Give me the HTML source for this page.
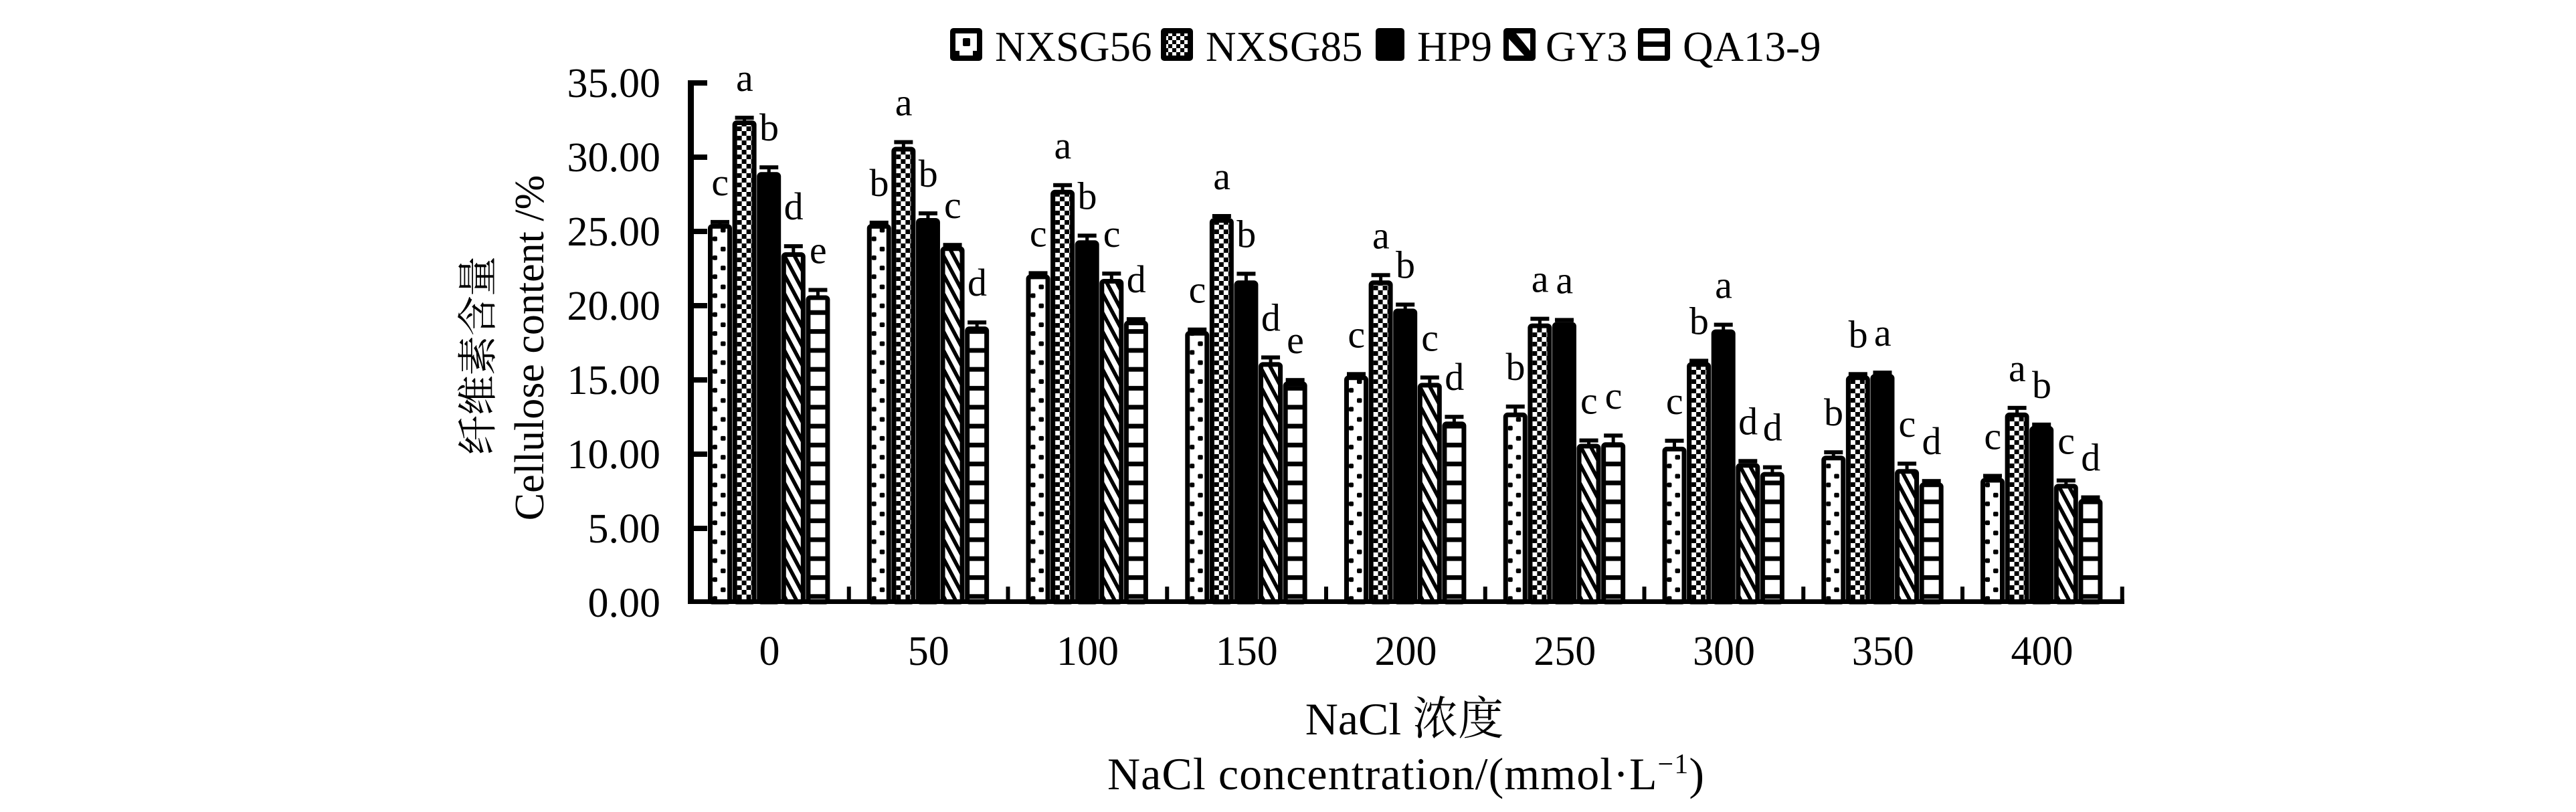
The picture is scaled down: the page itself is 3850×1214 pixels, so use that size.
<!DOCTYPE html>
<html><head><meta charset="utf-8">
<style>
html,body{margin:0;padding:0;background:#fff;}
svg{display:block;}
text{font-family:"Liberation Serif","Noto Serif CJK SC",serif;fill:#000;}
.tk{font-size:62px;}
.lt{font-size:58px;text-anchor:middle;}
.lg{font-size:63px;}
.cj{font-size:60px;font-family:"Noto Serif CJK SC","Noto Sans CJK SC","WenQuanYi Zen Hei",serif;text-anchor:middle;}
.p1{fill:url(#p1);}
.p2{fill:url(#p2);}
.p3{fill:#000;}
.p4{fill:url(#p4);}
.p5{fill:url(#p5);}
.bar{stroke:#000;stroke-width:7;}
</style></head>
<body>
<svg width="3850" height="1214" viewBox="0 0 3850 1214" xmlns="http://www.w3.org/2000/svg">
<defs>
<pattern id="p1" patternUnits="userSpaceOnUse" width="40" height="28.3"><rect width="40" height="28.3" fill="#fff"/><rect x="7" y="14" width="7" height="7" rx="2"/><rect x="19" y="1" width="7.5" height="7" rx="2"/></pattern>
<pattern id="p2" patternUnits="userSpaceOnUse" width="14" height="14"><rect width="14" height="14" fill="#fff"/><rect x="0" y="0" width="7" height="7"/><rect x="7" y="7" width="7" height="7"/></pattern>
<pattern id="p4" patternUnits="userSpaceOnUse" width="40" height="28.3" patternTransform="skewY(62)"><rect width="40" height="28.3" fill="#fff"/><rect width="40" height="12"/></pattern>
<pattern id="p5" patternUnits="userSpaceOnUse" width="40" height="28.3"><rect width="40" height="28.3" fill="#fff"/><rect y="11" width="40" height="7"/></pattern>
<pattern id="lp2" patternUnits="userSpaceOnUse" width="12" height="12"><rect width="12" height="12" fill="#fff"/><rect width="6" height="6"/><rect x="6" y="6" width="6" height="6"/></pattern>
</defs>
<rect width="3850" height="1214" fill="#fff"/>

<!-- Legend -->
<rect x="1420" y="42" width="48" height="49" rx="5"/>
<rect x="1428" y="50" width="32" height="33" fill="#fff"/>
<rect x="1439" y="57" width="11" height="12" rx="2"/>
<rect x="1428" y="76" width="6" height="7"/><rect x="1454" y="76" width="6" height="7"/>
<text class="lg" x="1487" y="91">NXSG56</text>
<rect x="1735" y="42" width="48" height="49" rx="5"/>
<rect x="1743" y="50" width="32" height="33" fill="url(#lp2)"/>
<text class="lg" x="1802" y="91">NXSG85</text>
<rect x="2056" y="42" width="43" height="49" rx="5"/>
<text class="lg" x="2118" y="91">HP9</text>
<rect x="2247" y="42" width="48" height="49" rx="5"/>
<rect x="2255" y="50" width="32" height="33" fill="#fff"/>
<polygon points="2255,50 2266,50 2287,76 2287,83 2278,83 2255,58"/>
<text class="lg" x="2310" y="91">GY3</text>
<rect x="2448" y="42" width="48" height="49" rx="5"/>
<rect x="2456" y="50" width="32" height="12" fill="#fff"/>
<rect x="2456" y="70" width="32" height="13" fill="#fff"/>
<text class="lg" x="2515" y="91">QA13-9</text>

<!-- Y axis title -->
<text class="cj" transform="translate(735,650.5) rotate(-90)">纤</text>
<text class="cj" transform="translate(735,591) rotate(-90)">维</text>
<text class="cj" transform="translate(735,531.7) rotate(-90)">素</text>
<text class="cj" transform="translate(735,472.3) rotate(-90)">含</text>
<text class="cj" transform="translate(735,413) rotate(-90)">量</text>
<text transform="translate(812,520) rotate(-90)" text-anchor="middle" style="font-size:62px;">Cellulose content /%</text>

<!-- Y tick labels -->
<text class="tk" x="987" y="145" text-anchor="end">35.00</text>
<text class="tk" x="987" y="256" text-anchor="end">30.00</text>
<text class="tk" x="987" y="367" text-anchor="end">25.00</text>
<text class="tk" x="987" y="478" text-anchor="end">20.00</text>
<text class="tk" x="987" y="589" text-anchor="end">15.00</text>
<text class="tk" x="987" y="700" text-anchor="end">10.00</text>
<text class="tk" x="987" y="811" text-anchor="end">5.00</text>
<text class="tk" x="987" y="922" text-anchor="end">0.00</text>

<!-- X tick labels -->
<text class="tk" x="1150" y="994" text-anchor="middle">0</text>
<text class="tk" x="1387.75" y="994" text-anchor="middle">50</text>
<text class="tk" x="1625.5" y="994" text-anchor="middle">100</text>
<text class="tk" x="1863.25" y="994" text-anchor="middle">150</text>
<text class="tk" x="2101" y="994" text-anchor="middle">200</text>
<text class="tk" x="2338.75" y="994" text-anchor="middle">250</text>
<text class="tk" x="2576.5" y="994" text-anchor="middle">300</text>
<text class="tk" x="2814.25" y="994" text-anchor="middle">350</text>
<text class="tk" x="3052" y="994" text-anchor="middle">400</text>

<!-- X title -->
<text x="2099" y="1098" text-anchor="middle" style="font-size:68px;">NaCl 浓度</text>
<text x="2101" y="1180" text-anchor="middle" style="font-size:68px;" textLength="892" lengthAdjust="spacing">NaCl concentration/(mmol·L<tspan dy="-24" style="font-size:42px;">−1</tspan><tspan dy="24">)</tspan></text>

<!-- Bars -->
<!-- G0 -->
<g transform="translate(1058,0)"><rect class="bar p1" x="3.5" y="338.4" width="29" height="561.6" rx="3"/><rect x="15.5" y="331.9" width="5" height="4"/><rect x="4" y="328.9" width="28" height="6"/><text class="lt" x="18.3" y="291.9">c</text></g>
<g transform="translate(1094.6,0)"><rect class="bar p2" x="3.5" y="183.5" width="29" height="716.5" rx="3"/><rect x="15.5" y="176" width="5" height="5"/><rect x="4" y="173" width="28" height="6"/><text class="lt" x="18.3" y="136">a</text></g>
<g transform="translate(1131.2,0)"><rect class="bar p3" x="3.5" y="260.7" width="29" height="639.3" rx="3"/><rect x="15.5" y="250.2" width="5" height="8"/><rect x="4" y="247.2" width="28" height="6"/><text class="lt" x="18.3" y="210.2">b</text></g>
<g transform="translate(1167.8,0)"><rect class="bar p4" x="3.5" y="380.6" width="29" height="519.4" rx="3"/><rect x="15.5" y="368.1" width="5" height="10"/><rect x="4" y="365.1" width="28" height="6"/><text class="lt" x="18.3" y="328.1">d</text></g>
<g transform="translate(1204.4,0)"><rect class="bar p5" x="3.5" y="445" width="29" height="455" rx="3"/><rect x="15.5" y="433.5" width="5" height="9"/><rect x="4" y="430.5" width="28" height="6"/><text class="lt" x="18.3" y="393.5">e</text></g>
<!-- G50 -->
<g transform="translate(1295.75,0)"><rect class="bar p1" x="3.5" y="338.4" width="29" height="561.6" rx="3"/><rect x="4" y="329.9" width="28" height="6"/><text class="lt" x="18.3" y="292.9">b</text></g>
<g transform="translate(1332.35,0)"><rect class="bar p2" x="3.5" y="223" width="29" height="677" rx="3"/><rect x="15.5" y="212.5" width="5" height="8"/><rect x="4" y="209.5" width="28" height="6"/><text class="lt" x="18.3" y="172.5">a</text></g>
<g transform="translate(1368.95,0)"><rect class="bar p3" x="3.5" y="329.5" width="29" height="570.5" rx="3"/><rect x="15.5" y="319" width="5" height="8"/><rect x="4" y="316" width="28" height="6"/><text class="lt" x="18.3" y="279">b</text></g>
<g transform="translate(1405.55,0)"><rect class="bar p4" x="3.5" y="371.7" width="29" height="528.3" rx="3"/><rect x="4" y="363.2" width="28" height="6"/><text class="lt" x="18.3" y="326.2">c</text></g>
<g transform="translate(1442.15,0)"><rect class="bar p5" x="3.5" y="491.6" width="29" height="408.4" rx="3"/><rect x="15.5" y="482.1" width="5" height="7"/><rect x="4" y="479.1" width="28" height="6"/><text class="lt" x="18.3" y="442.1">d</text></g>
<!-- G100 -->
<g transform="translate(1533.5,0)"><rect class="bar p1" x="3.5" y="413.9" width="29" height="486.1" rx="3"/><rect x="4" y="405.4" width="28" height="6"/><text class="lt" x="18.3" y="368.4">c</text></g>
<g transform="translate(1570.1,0)"><rect class="bar p2" x="3.5" y="287.3" width="29" height="612.7" rx="3"/><rect x="15.5" y="276.8" width="5" height="8"/><rect x="4" y="273.8" width="28" height="6"/><text class="lt" x="18.3" y="236.8">a</text></g>
<g transform="translate(1606.7,0)"><rect class="bar p3" x="3.5" y="362.8" width="29" height="537.2" rx="3"/><rect x="15.5" y="352.3" width="5" height="8"/><rect x="4" y="349.3" width="28" height="6"/><text class="lt" x="18.3" y="312.3">b</text></g>
<g transform="translate(1643.3,0)"><rect class="bar p4" x="3.5" y="420.5" width="29" height="479.5" rx="3"/><rect x="15.5" y="409" width="5" height="9"/><rect x="4" y="406" width="28" height="6"/><text class="lt" x="18.3" y="369">c</text></g>
<g transform="translate(1679.9,0)"><rect class="bar p5" x="3.5" y="482.7" width="29" height="417.3" rx="3"/><rect x="4" y="474.2" width="28" height="6"/><text class="lt" x="18.3" y="437.2">d</text></g>
<!-- G150 -->
<g transform="translate(1771.25,0)"><rect class="bar p1" x="3.5" y="498.2" width="29" height="401.8" rx="3"/><rect x="4" y="489.7" width="28" height="6"/><text class="lt" x="18.3" y="452.7">c</text></g>
<g transform="translate(1807.85,0)"><rect class="bar p2" x="3.5" y="329.5" width="29" height="570.5" rx="3"/><rect x="4" y="320" width="28" height="6"/><text class="lt" x="18.3" y="283">a</text></g>
<g transform="translate(1844.45,0)"><rect class="bar p3" x="3.5" y="422.8" width="29" height="477.2" rx="3"/><rect x="15.5" y="409.3" width="5" height="11"/><rect x="4" y="406.3" width="28" height="6"/><text class="lt" x="18.3" y="369.3">b</text></g>
<g transform="translate(1881.05,0)"><rect class="bar p4" x="3.5" y="544.9" width="29" height="355.1" rx="3"/><rect x="15.5" y="534.4" width="5" height="8"/><rect x="4" y="531.4" width="28" height="6"/><text class="lt" x="18.3" y="494.4">d</text></g>
<g transform="translate(1917.65,0)"><rect class="bar p5" x="3.5" y="573.7" width="29" height="326.3" rx="3"/><rect x="4" y="565.2" width="28" height="6"/><text class="lt" x="18.3" y="528.2">e</text></g>
<!-- G200 -->
<g transform="translate(2009,0)"><rect class="bar p1" x="3.5" y="564.8" width="29" height="335.2" rx="3"/><rect x="4" y="556.3" width="28" height="6"/><text class="lt" x="18.3" y="519.3">c</text></g>
<g transform="translate(2045.6,0)"><rect class="bar p2" x="3.5" y="422.8" width="29" height="477.2" rx="3"/><rect x="15.5" y="411.3" width="5" height="9"/><rect x="4" y="408.3" width="28" height="6"/><text class="lt" x="18.3" y="371.3">a</text></g>
<g transform="translate(2082.2,0)"><rect class="bar p3" x="3.5" y="464.9" width="29" height="435.1" rx="3"/><rect x="15.5" y="455.4" width="5" height="7"/><rect x="4" y="452.4" width="28" height="6"/><text class="lt" x="18.3" y="415.4">b</text></g>
<g transform="translate(2118.8,0)"><rect class="bar p4" x="3.5" y="575.9" width="29" height="324.1" rx="3"/><rect x="15.5" y="564.4" width="5" height="9"/><rect x="4" y="561.4" width="28" height="6"/><text class="lt" x="18.3" y="524.4">c</text></g>
<g transform="translate(2155.4,0)"><rect class="bar p5" x="3.5" y="633.7" width="29" height="266.3" rx="3"/><rect x="15.5" y="623.2" width="5" height="8"/><rect x="4" y="620.2" width="28" height="6"/><text class="lt" x="18.3" y="583.2">d</text></g>
<!-- G250 -->
<g transform="translate(2246.75,0)"><rect class="bar p1" x="3.5" y="620.3" width="29" height="279.7" rx="3"/><rect x="15.5" y="607.8" width="5" height="10"/><rect x="4" y="604.8" width="28" height="6"/><text class="lt" x="18.3" y="567.8">b</text></g>
<g transform="translate(2283.35,0)"><rect class="bar p2" x="3.5" y="487.1" width="29" height="412.9" rx="3"/><rect x="15.5" y="476.6" width="5" height="8"/><rect x="4" y="473.6" width="28" height="6"/><text class="lt" x="18.3" y="436.6">a</text></g>
<g transform="translate(2319.95,0)"><rect class="bar p3" x="3.5" y="484.9" width="29" height="415.1" rx="3"/><rect x="4" y="475.4" width="28" height="6"/><text class="lt" x="18.3" y="438.4">a</text></g>
<g transform="translate(2356.55,0)"><rect class="bar p4" x="3.5" y="667" width="29" height="233" rx="3"/><rect x="15.5" y="658.5" width="5" height="6"/><rect x="4" y="655.5" width="28" height="6"/><text class="lt" x="18.3" y="618.5">c</text></g>
<g transform="translate(2393.15,0)"><rect class="bar p5" x="3.5" y="664.7" width="29" height="235.3" rx="3"/><rect x="15.5" y="651.2" width="5" height="11"/><rect x="4" y="648.2" width="28" height="6"/><text class="lt" x="18.3" y="611.2">c</text></g>
<!-- G300 -->
<g transform="translate(2484.5,0)"><rect class="bar p1" x="3.5" y="671.4" width="29" height="228.6" rx="3"/><rect x="15.5" y="658.9" width="5" height="10"/><rect x="4" y="655.9" width="28" height="6"/><text class="lt" x="18.3" y="618.9">c</text></g>
<g transform="translate(2521.1,0)"><rect class="bar p2" x="3.5" y="544.9" width="29" height="355.1" rx="3"/><rect x="4" y="536.4" width="28" height="6"/><text class="lt" x="18.3" y="499.4">b</text></g>
<g transform="translate(2557.7,0)"><rect class="bar p3" x="3.5" y="496" width="29" height="404" rx="3"/><rect x="15.5" y="485.5" width="5" height="8"/><rect x="4" y="482.5" width="28" height="6"/><text class="lt" x="18.3" y="445.5">a</text></g>
<g transform="translate(2594.3,0)"><rect class="bar p4" x="3.5" y="695.8" width="29" height="204.2" rx="3"/><rect x="4" y="686.3" width="28" height="6"/><text class="lt" x="18.3" y="649.3">d</text></g>
<g transform="translate(2630.9,0)"><rect class="bar p5" x="3.5" y="709.1" width="29" height="190.9" rx="3"/><rect x="15.5" y="698.6" width="5" height="8"/><rect x="4" y="695.6" width="28" height="6"/><text class="lt" x="18.3" y="658.6">d</text></g>
<!-- G350 -->
<g transform="translate(2722.25,0)"><rect class="bar p1" x="3.5" y="684.7" width="29" height="215.3" rx="3"/><rect x="15.5" y="676.2" width="5" height="6"/><rect x="4" y="673.2" width="28" height="6"/><text class="lt" x="18.3" y="636.2">b</text></g>
<g transform="translate(2758.85,0)"><rect class="bar p2" x="3.5" y="564.8" width="29" height="335.2" rx="3"/><rect x="4" y="556.3" width="28" height="6"/><text class="lt" x="18.3" y="519.3">b</text></g>
<g transform="translate(2795.45,0)"><rect class="bar p3" x="3.5" y="562.6" width="29" height="337.4" rx="3"/><rect x="4" y="554.1" width="28" height="6"/><text class="lt" x="18.3" y="517.1">a</text></g>
<g transform="translate(2832.05,0)"><rect class="bar p4" x="3.5" y="704.7" width="29" height="195.3" rx="3"/><rect x="15.5" y="693.2" width="5" height="9"/><rect x="4" y="690.2" width="28" height="6"/><text class="lt" x="18.3" y="653.2">c</text></g>
<g transform="translate(2868.65,0)"><rect class="bar p5" x="3.5" y="724.7" width="29" height="175.3" rx="3"/><rect x="4" y="716.2" width="28" height="6"/><text class="lt" x="18.3" y="679.2">d</text></g>
<!-- G400 -->
<g transform="translate(2960,0)"><rect class="bar p1" x="3.5" y="718" width="29" height="182" rx="3"/><rect x="15.5" y="711.5" width="5" height="4"/><rect x="4" y="708.5" width="28" height="6"/><text class="lt" x="18.3" y="671.5">c</text></g>
<g transform="translate(2996.6,0)"><rect class="bar p2" x="3.5" y="620.3" width="29" height="279.7" rx="3"/><rect x="15.5" y="609.8" width="5" height="8"/><rect x="4" y="606.8" width="28" height="6"/><text class="lt" x="18.3" y="569.8">a</text></g>
<g transform="translate(3033.2,0)"><rect class="bar p3" x="3.5" y="640.3" width="29" height="259.7" rx="3"/><rect x="4" y="631.8" width="28" height="6"/><text class="lt" x="18.3" y="594.8">b</text></g>
<g transform="translate(3069.8,0)"><rect class="bar p4" x="3.5" y="726.9" width="29" height="173.1" rx="3"/><rect x="15.5" y="718.4" width="5" height="6"/><rect x="4" y="715.4" width="28" height="6"/><text class="lt" x="18.3" y="678.4">c</text></g>
<g transform="translate(3106.4,0)"><rect class="bar p5" x="3.5" y="749.1" width="29" height="150.9" rx="3"/><rect x="4" y="740.6" width="28" height="6"/><text class="lt" x="18.3" y="703.6">d</text></g>

<!-- Axes -->
<rect x="1028" y="120" width="9" height="783"/>
<rect x="1028" y="120" width="29" height="8"/>
<rect x="1028" y="231" width="29" height="8"/>
<rect x="1028" y="342" width="29" height="8"/>
<rect x="1028" y="453" width="29" height="8"/>
<rect x="1028" y="564" width="29" height="8"/>
<rect x="1028" y="675" width="29" height="8"/>
<rect x="1028" y="786" width="29" height="8"/>
<rect x="1028" y="896" width="2147" height="7"/>
<rect x="1265.75" y="877" width="6" height="22"/>
<rect x="1503.5" y="877" width="6" height="22"/>
<rect x="1741.25" y="877" width="6" height="22"/>
<rect x="1979" y="877" width="6" height="22"/>
<rect x="2216.75" y="877" width="6" height="22"/>
<rect x="2454.5" y="877" width="6" height="22"/>
<rect x="2692.25" y="877" width="6" height="22"/>
<rect x="2930" y="877" width="6" height="22"/>
<rect x="3168.75" y="877" width="6" height="22"/>
</svg>
</body></html>
